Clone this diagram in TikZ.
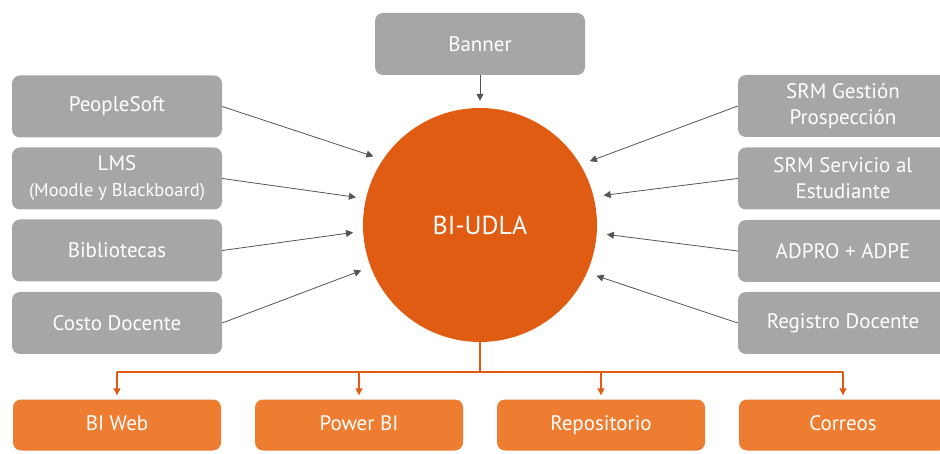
\documentclass[tikz,border=0pt]{standalone}
\usepackage{fontspec}
\setmainfont{PT Sans}
\usetikzlibrary{arrows.meta}
\definecolor{boxgray}{RGB}{166,166,166}
\definecolor{udlaorange}{RGB}{224,92,18}
\definecolor{outorange}{RGB}{238,125,50}
\definecolor{linegray}{RGB}{85,85,85}

\begin{document}
\begin{tikzpicture}[
    x=1pt, y=-1pt, >={Triangle[length=7pt,width=7pt]},
    source/.style={
      rectangle,
      rounded corners=8pt,
      fill=boxgray,
      text=white,
      minimum width=210pt,
      minimum height=62pt,
      align=center,
      font=\fontsize{21}{26}\selectfont
    },
    target/.style={source, fill=outorange, minimum width=208pt,
      minimum height=51pt, text height=15pt, text depth=5pt},
    feed/.style={->, draw=linegray, line width=0.8pt, shorten >=10pt},
    branch/.style={draw=udlaorange, line width=1.2pt},
    publish/.style={branch, ->, shorten >=4pt}
  ]
  \useasboundingbox (0,0) rectangle (940,454);

  \begin{scope}
    \node[circle, fill=udlaorange, minimum size=234pt, text=white,
      font=\fontsize{26}{30}\selectfont] (bi) at (480,225) {BI-UDLA};

    \node[source] (banner) at (480,44) {Banner};

    \node[source] (ps) at (117,106.5) {PeopleSoft};
    \node[source] (lms) at (117,178.5) {LMS\\{\fontsize{18.5}{22}\selectfont(Moodle y Blackboard)}};
    \node[source] (bib) at (117,250.5) {Bibliotecas};
    \node[source] (costo) at (117,323) {Costo Docente};

    \node[source] (srmg) at (843,106) {SRM Gestión\\Prospección};
    \node[source] (srms) at (843,178.5) {SRM Servicio al\\Estudiante};
    \node[source] (adpro) at (843,251) {ADPRO + ADPE};
    \node[source] (reg) at (843,323) {Registro Docente};

    \node[target] (web) at (117,425) {BI Web};
    \node[target] (pbi) at (359,425) {Power BI};
    \node[target] (repo) at (601,425) {Repositorio};
    \node[target] (mail) at (843,425) {Correos};

    \draw[feed, shorten >=7pt] (banner) -- (bi);
    \draw[feed] (ps.east) -- (bi.146);
    \draw[feed] (lms.east) -- (bi.167);
    \draw[feed] (bib.east) -- (bi.183);
    \draw[feed] (costo.east) -- (bi.201);
    \draw[feed] (srmg.west) -- (bi.31);
    \draw[feed] (srms.west) -- (bi.14);
    \draw[feed] (adpro.west) -- (bi.-4);
    \draw[feed] (reg.west) -- (bi.-24);

    \coordinate (hub) at (480,372);
    \draw[branch] (bi.south) -- (hub);
    \draw[branch] (hub -| web.north) -- (hub -| mail.north);
    \foreach \n in {web,pbi,repo,mail}
      \draw[publish] (hub -| \n.north) -- (\n.north);
  \end{scope}
\end{tikzpicture}
\end{document}
